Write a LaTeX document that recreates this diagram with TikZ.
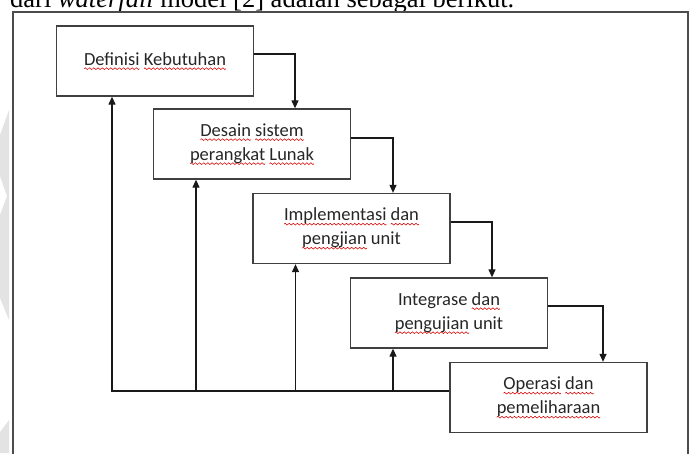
\documentclass[tikz,border=0pt]{standalone}
\usepackage{fontspec}
\setmainfont{Carlito}
\newfontfamily\serifjudul{Liberation Serif}
\usepackage{tikz}
\usetikzlibrary{arrows.meta}

% garis bergelombang merah (ejaan)
\newsavebox{\gelombang}
\newsavebox{\kata}
\AtBeginDocument{\sbox{\gelombang}{\begin{pgfpicture}
  \pgfpathrectanglecorners{\pgfpoint{0pt}{-1pt}}{\pgfpoint{4pt}{1pt}}\pgfusepath{use as bounding box}
  \pgfsetlinewidth{0.55pt}\pgfsetstrokecolor{red!85!black}
  \pgfpathmoveto{\pgfpoint{0pt}{0pt}}
  \pgfpathsine{\pgfpoint{1pt}{0.9pt}}\pgfpathcosine{\pgfpoint{1pt}{-0.9pt}}
  \pgfpathsine{\pgfpoint{1pt}{-0.9pt}}\pgfpathcosine{\pgfpoint{1pt}{0.9pt}}
  \pgfusepath{stroke}\end{pgfpicture}}}
\newcommand{\ejaan}[1]{\sbox{\kata}{#1}\rlap{\raisebox{-4.5pt}{\hbox to \wd\kata{\xleaders\copy\gelombang\hfill}}}\usebox{\kata}}

\tikzset{
  tahap/.style={draw=black!75, line width=1.3pt, minimum width=197pt, minimum height=70pt,
    inner sep=0pt, align=center, text=black!85, font=\fontsize{18.5}{24}\selectfont},
  alur/.style={line width=1.2pt, draw=black!90}
}

\begin{document}
\begin{tikzpicture}[x=1pt, y=-1pt, >={Triangle[length=8pt, width=7pt]}]
            \useasboundingbox (0,0) rectangle (692,453);
            % Bayangan abu-abu di tepi kiri
            \fill[gray!22] (0,135) -- (9,110) -- (9,320) -- (0,298) -- (0,215) -- (7,196) -- (0,176) -- cycle;
            \fill[gray!22] (0,432) -- (9,420) -- (9,453) -- (0,453) -- cycle;

            % Kalimat di atas gambar
            \node[anchor=base west, inner sep=0pt, font=\serifjudul\fontsize{26.5}{30}\selectfont] (judul) at (10,7)
              {dari \textit{waterfall} model [2] adalah sebagai berikut.};

            % Bingkai luar
            \draw[draw=black!70, line width=1.5pt] (13,460) -- (13,12) -- (688,12) -- (688,460);

            % Tahapan
            \node[tahap] (b1) at (155,61) {\ejaan{Definisi} \ejaan{Kebutuhan}};
            \node[tahap] (b2) at (252,144) {\ejaan{Desain} \ejaan{sistem}\\ \ejaan{perangkat} \ejaan{Lunak}};
            \node[tahap] (b3) at (351.5,228.5) {\ejaan{Implementasi} \ejaan{dan}\\ \ejaan{pengjian} unit};
            \node[tahap] (b4) at (449,313) {Integrase \ejaan{dan}\\ \ejaan{pengujian} unit};
            \node[tahap] (b5) at (548.5,397.5) {\ejaan{Operasi} \ejaan{dan}\\ \ejaan{pemeliharaan}};

            % Panah turun
            \draw[alur, ->] ([yshift=7pt]b1.east) -| ([xshift=43pt]b2.north);
            \draw[alur, ->] ([yshift=6pt]b2.east) -| ([xshift=41.5pt]b3.north);
            \draw[alur, ->] ([yshift=6.5pt]b3.east) -| ([xshift=43pt]b4.north);
            \draw[alur, ->] ([yshift=7pt]b4.east) -| ([xshift=54.5pt]b5.north);

            % Panah balik
            \coordinate (balik) at ([yshift=6.5pt]b5.west);
            \draw[alur, ->] (balik) -| ([xshift=-43pt]b1.south);
            \foreach \n in {b2,b3,b4} {
              \coordinate (k) at ([xshift=-56pt]\n.south);
              \draw[alur, ->] (k |- balik) -- (k);
            }
        \end{tikzpicture}
\end{document}
